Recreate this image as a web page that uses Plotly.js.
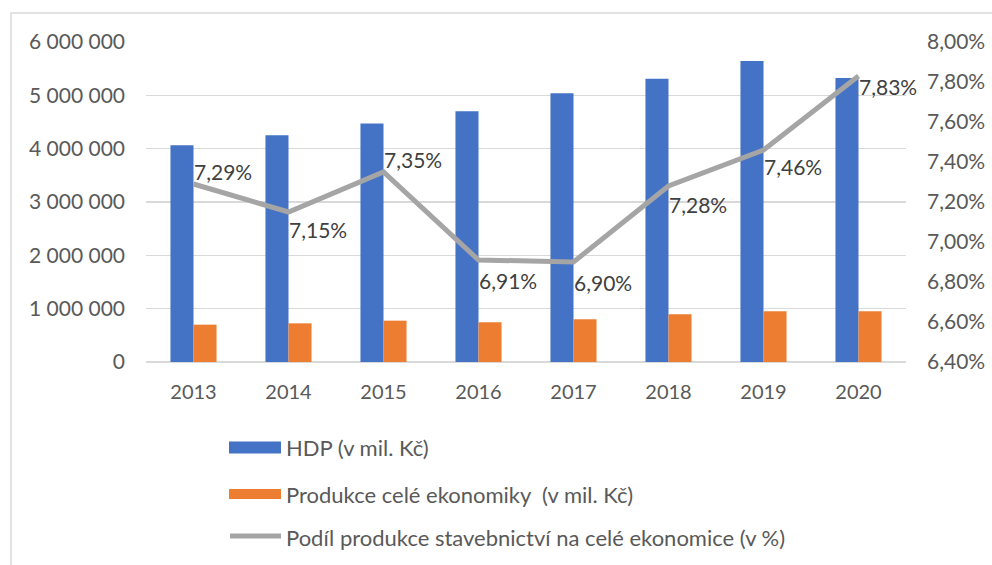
<!DOCTYPE html>
<html>
<head>
<meta charset="utf-8">
<script src="https://cdn.plot.ly/plotly-3.0.1.min.js"></script>
<style>
  html, body { margin: 0; padding: 0; background: #ffffff; }
  #chart { width: 992px; height: 565px; }
</style>
</head>
<body>
<div id="chart"></div>
<script>
// ---- data ----
const years = ['2013', '2014', '2015', '2016', '2017', '2018', '2019', '2020'];
const hdp = [4063000, 4250000, 4470000, 4700000, 5040000, 5310000, 5645000, 5325000];
const produkce = [700000, 725000, 775000, 745000, 800000, 894000, 950000, 950000];
const podil = [7.29, 7.15, 7.35, 6.91, 6.90, 7.28, 7.46, 7.83];
const seriesNames = [
  'HDP (v mil. Kč)',
  'Produkce celé ekonomiky  (v mil. Kč)',
  'Podíl produkce stavebnictví na celé ekonomice (v %)'
];
const leftTicks = [0, 1000000, 2000000, 3000000, 4000000, 5000000, 6000000];
const rightTicks = [6.4, 6.6, 6.8, 7.0, 7.2, 7.4, 7.6, 7.8, 8.0];

// ---- styling ----
const FONT = 'Lato, "Open Sans", "Liberation Sans", sans-serif';
const BLUE = '#4472C4', ORANGE = '#ED7D31', GREY = '#A5A5A5';
const TICK = '#595959', GRID = '#D9D9D9', LABEL = '#404040';

// plot area in pixels (for legend placement in paper coords)
const PL = 146, PR = 906, PT = 42, PB = 362;
const px = x => (x - PL) / (PR - PL);
const py = y => (PB - y) / (PB - PT);

const fmtPct = v => v.toFixed(2).replace('.', ',') + '%';

// vertical offsets (px) of the data labels relative to their points
const labelShift = [13, -17, 13, -20, -20, -18, -16, -10];

const traces = [
  { type: 'bar', x: years, y: hdp, name: seriesNames[0],
    marker: { color: BLUE }, showlegend: false, hoverinfo: 'skip' },
  { type: 'bar', x: years, y: produkce, name: seriesNames[1],
    marker: { color: ORANGE }, showlegend: false, hoverinfo: 'skip' },
  { type: 'scatter', mode: 'lines', x: years, y: podil, name: seriesNames[2],
    yaxis: 'y2', line: { color: GREY, width: 5 },
    cliponaxis: false, showlegend: false, hoverinfo: 'skip' }
];

// data labels on the line (x given as category index)
const dataLabels = years.map((yr, i) => ({
  xref: 'x', yref: 'y2', x: i, y: podil[i],
  text: fmtPct(podil[i]), showarrow: false,
  xanchor: 'left', yanchor: 'middle', xshift: -2, yshift: labelShift[i],
  font: { family: FONT, size: 21, color: LABEL }
}));

// custom legend (wide swatches like the original)
const legendRows = [447.5, 494, 537];
const shapes = [
  // outer chart border
  { type: 'rect', xref: 'paper', yref: 'paper',
    x0: px(11), x1: px(1010), y0: py(13), y1: py(600),
    line: { color: GRID, width: 1.5 }, fillcolor: 'rgba(0,0,0,0)', layer: 'below' },
  { type: 'rect', xref: 'paper', yref: 'paper',
    x0: px(229), x1: px(281), y0: py(legendRows[0] - 6), y1: py(legendRows[0] + 6),
    fillcolor: BLUE, line: { width: 0 } },
  { type: 'rect', xref: 'paper', yref: 'paper',
    x0: px(229), x1: px(281), y0: py(legendRows[1] - 5), y1: py(legendRows[1] + 5),
    fillcolor: ORANGE, line: { width: 0 } },
  { type: 'line', xref: 'paper', yref: 'paper',
    x0: px(230), x1: px(281), y0: py(legendRows[2] - 1), y1: py(legendRows[2] - 1),
    line: { color: GREY, width: 5 } }
];
const legendText = seriesNames.map((n, i) => ({
  xref: 'paper', yref: 'paper', x: px(284), y: py(legendRows[i]),
  xanchor: 'left', yanchor: 'middle', showarrow: false, text: n,
  font: { family: FONT, size: 22, color: TICK }
}));

const layout = {
  width: 992, height: 565,
  margin: { l: PL, r: 992 - PR, t: PT, b: 565 - PB },
  paper_bgcolor: '#ffffff', plot_bgcolor: '#ffffff',
  font: { family: FONT, color: TICK },
  separators: ', ',
  barmode: 'group', bargap: 0.515, bargroupgap: 0,
  showlegend: false,
  xaxis: {
    type: 'category', range: [-0.5, years.length - 0.5],
    tickfont: { family: FONT, size: 20, color: TICK },
    showgrid: false, zeroline: false, showline: false, ticks: '',
    ticklabelstandoff: 16
  },
  yaxis: {
    range: [0, 6000000], tickvals: leftTicks, tickformat: ',d',
    tickfont: { family: FONT, size: 21, color: TICK },
    showgrid: true, gridcolor: GRID, gridwidth: 1.5,
    zeroline: true, zerolinecolor: GRID, zerolinewidth: 1.5,
    showline: false, ticks: '', ticklabelstandoff: 20
  },
  yaxis2: {
    overlaying: 'y', side: 'right', range: [6.4, 8.0],
    tickvals: rightTicks, ticktext: rightTicks.map(fmtPct),
    tickfont: { family: FONT, size: 21, color: TICK },
    showgrid: false, zeroline: false, showline: false, ticks: '',
    ticklabelstandoff: 20
  },
  shapes: shapes,
  annotations: dataLabels.concat(legendText)
};

Plotly.newPlot('chart', traces, layout, { staticPlot: true, displayModeBar: false });
</script>
</body>
</html>
